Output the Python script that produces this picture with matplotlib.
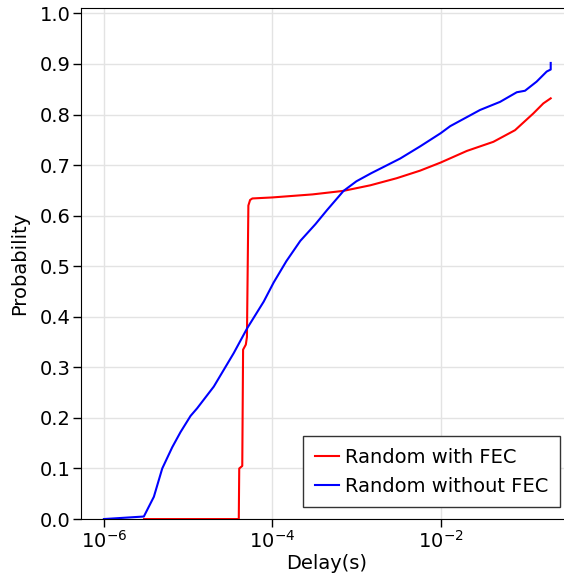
import matplotlib
matplotlib.use('Agg')
import matplotlib.pyplot as plt
from matplotlib.ticker import LogLocator, NullLocator

# delay (s) vs cumulative probability
fec_delay = [3.0e-6, 4.0e-5, 4.05e-5, 4.4e-5, 4.5e-5, 4.85e-5, 5.0e-5, 5.2e-5,
             5.45e-5, 5.8e-5, 1.0e-4, 3.0e-4, 7.0e-4, 1.46e-3, 3.0e-3, 5.7e-3,
             1.0e-2, 2.05e-2, 4.23e-2, 7.65e-2, 0.126, 0.166, 0.203]
fec_prob = [0.0, 0.0, 0.1, 0.105, 0.335, 0.345, 0.36, 0.62,
            0.631, 0.634, 0.636, 0.642, 0.649, 0.660, 0.674, 0.689,
            0.705, 0.728, 0.746, 0.769, 0.802, 0.822, 0.832]

nofec_delay = [1.0e-6, 2.98e-6, 3.92e-6, 4.93e-6, 6.48e-6, 8.13e-6, 1.07e-5,
               1.28e-5, 2.02e-5, 3.48e-5, 5.02e-5, 7.91e-5, 1.04e-4, 1.47e-4,
               2.15e-4, 3.25e-4, 4.47e-4, 7.03e-4, 1.0e-3, 1.5e-3, 2.2e-3,
               3.31e-3, 5.71e-3, 1.0e-2, 1.3e-2, 2.94e-2, 5.08e-2, 8.02e-2,
               0.1005, 0.138, 0.182, 0.203, 0.203]
nofec_prob = [0.0, 0.005, 0.044, 0.1, 0.142, 0.172, 0.204,
              0.219, 0.262, 0.328, 0.377, 0.43, 0.468, 0.51,
              0.55, 0.583, 0.611, 0.649, 0.668, 0.684, 0.698,
              0.713, 0.737, 0.763, 0.777, 0.809, 0.825, 0.844,
              0.847, 0.865, 0.885, 0.889, 0.902]

plt.rcParams['font.size'] = 14

fig = plt.figure(figsize=(5.64, 5.78), dpi=100)
# right edge of the axes sits just past the picture edge, as in the reference
ax = fig.add_axes([0.1431, 0.102, 0.871, 0.8836])

ax.plot(fec_delay, fec_prob, color='red', lw=1.5, label='Random with FEC')
ax.plot(nofec_delay, nofec_prob, color='blue', lw=1.5, label='Random without FEC')

ax.set_xscale('log')
ax.set_xlim(5.3e-7, 0.363)
ax.set_ylim(0, 1.01)
ax.xaxis.set_major_locator(LogLocator(base=100))
ax.xaxis.set_minor_locator(NullLocator())
ax.set_yticks([i / 10 for i in range(11)])

ax.grid(True, color='#e3e3e3', lw=1)
ax.set_axisbelow(True)
ax.spines['right'].set_visible(False)
ax.tick_params(length=5.5, width=1, pad=2, direction='out', top=False, right=False)

ax.set_xlabel('Delay(s)', labelpad=2)
ax.set_ylabel('Probability', labelpad=7)

leg = ax.legend(loc='lower right', fancybox=False, framealpha=1, edgecolor='#333333',
                handlelength=1.25, handletextpad=0.3, borderpad=0.6, borderaxespad=0.6)
leg.get_frame().set_linewidth(1)

fig.savefig('out.png', dpi=100)
